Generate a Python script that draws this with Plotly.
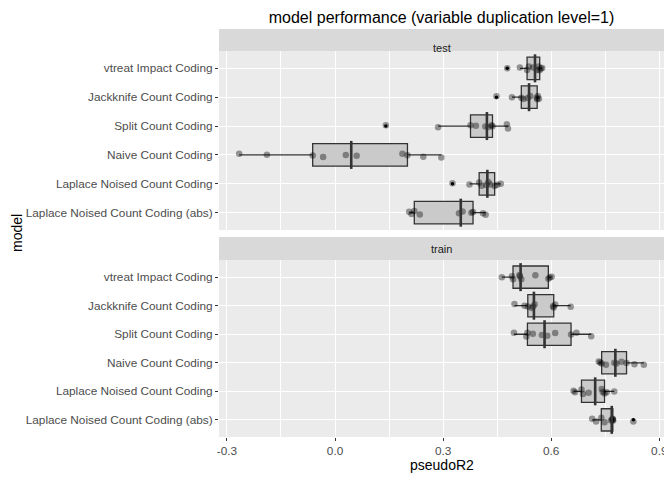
import numpy as np
import plotly.graph_objects as go
from plotly.subplots import make_subplots

# model names, top to bottom as in the chart
models = ["vtreat Impact Coding", "Jackknife Count Coding", "Split Count Coding",
          "Naive Count Coding", "Laplace Noised Count Coding", "Laplace Noised Count Coding (abs)"]

# pseudoR2 per repetition, test set
test_vtreat = [0.478, 0.513, 0.533, 0.538, 0.550, 0.560, 0.565, 0.568, 0.571, 0.575]
test_jackknife = [0.448, 0.491, 0.517, 0.523, 0.535, 0.542, 0.560, 0.561, 0.563, 0.566]
test_split = [0.141, 0.286, 0.376, 0.391, 0.417, 0.426, 0.434, 0.437, 0.477, 0.480]
test_naive = [-0.266, -0.189, -0.062, -0.033, 0.030, 0.060, 0.187, 0.201, 0.245, 0.295]
test_laplace = [0.326, 0.373, 0.400, 0.407, 0.420, 0.4255, 0.431, 0.443, 0.450, 0.460]
test_laplace_abs = [0.2057, 0.2123, 0.220, 0.2353, 0.344, 0.354, 0.3785, 0.383, 0.4106, 0.418]

# pseudoR2 per repetition, train set
train_vtreat = [0.463, 0.491, 0.494, 0.512, 0.513, 0.517, 0.556, 0.592, 0.596, 0.601]
train_jackknife = [0.498, 0.526, 0.535, 0.546, 0.550, 0.554, 0.605, 0.607, 0.611, 0.654]
train_split = [0.4965, 0.531, 0.534, 0.549, 0.574, 0.589, 0.611, 0.655, 0.670, 0.711]
train_naive = [0.732, 0.736, 0.740, 0.752, 0.775, 0.781, 0.795, 0.809, 0.831, 0.857]
train_laplace = [0.662, 0.666, 0.684, 0.688, 0.704, 0.740, 0.743, 0.748, 0.754, 0.775]
train_laplace_abs = [0.7135, 0.7246, 0.739, 0.748, 0.766, 0.770, 0.770, 0.771, 0.772, 0.828]

facets = {
  "test": [test_vtreat, test_jackknife, test_split, test_naive, test_laplace, test_laplace_abs],
  "train": [train_vtreat, train_jackknife, train_split, train_naive, train_laplace, train_laplace_abs],
}

font = "Liberation Sans, Arial, sans-serif"
fig = make_subplots(rows=2, cols=1, shared_xaxes=True)

for row, (facet, groups) in enumerate(facets.items(), start=1):
  xs = [v for g in groups for v in g]
  ys = [m for m, g in zip(models, groups) for _ in g]
  # outlier dots of the boxplot (drawn below the jittered points)
  fig.add_trace(go.Box(x=xs, y=ys, orientation="h", boxpoints="outliers", width=0.78,
                       fillcolor="rgba(0,0,0,0)", line=dict(color="rgba(0,0,0,0)", width=0),
                       marker=dict(color="black", size=3.5), whiskerwidth=0,
                       hoverinfo="skip", showlegend=False), row=row, col=1)
  # box + jittered points
  fig.add_trace(go.Box(x=xs, y=ys, orientation="h", boxpoints="all", jitter=0.25, pointpos=0,
                       width=0.78, fillcolor="#CACACA", line=dict(color="#333333", width=1.3),
                       marker=dict(color="rgba(0,0,0,0.38)", size=6.5), whiskerwidth=0,
                       showlegend=False), row=row, col=1)
  # thicker median bar like ggplot
  fig.add_trace(go.Scatter(x=[float(np.median(g)) for g in groups], y=models, mode="markers",
                           marker=dict(symbol="line-ns", size=20, line=dict(color="#333333", width=2.6)),
                           hoverinfo="skip", showlegend=False), row=row, col=1)

# panel geometry (paper coords)
top_dom = [0.5074, 0.9461]
bot_dom = [0.0, 0.4338]
strips = [("test", 0.9461, 1.0), ("train", 0.4338, 0.4902)]

for lo, hi in [(s[1], s[2]) for s in strips]:
  fig.add_shape(type="rect", xref="paper", yref="paper", x0=0, x1=1, y0=lo, y1=hi,
                fillcolor="#D9D9D9", line=dict(width=0), layer="below")
for label, lo, hi in strips:
  fig.add_annotation(text=label, xref="paper", yref="paper", x=0.5, y=(lo + hi) / 2,
                     showarrow=False, font=dict(family=font, size=11, color="#1A1A1A"))

xaxis_style = dict(range=[-0.322, 0.913], tickvals=[-0.3, 0.0, 0.3, 0.6, 0.9],
                   ticktext=["-0.3", "0.0", "0.3", "0.6", "0.9"], automargin=False,
                   showgrid=True, gridcolor="white", gridwidth=1.1, zeroline=False,
                   minor=dict(tickvals=[-0.15, 0.15, 0.45, 0.75], showgrid=True,
                              gridcolor="white", gridwidth=0.5),
                   showline=False, tickfont=dict(family=font, size=11.8, color="#4D4D4D"))
fig.update_xaxes(**xaxis_style)
fig.update_xaxes(showticklabels=False, ticks="", row=1, col=1)
fig.update_xaxes(ticks="outside", ticklen=3, tickcolor="#333333", row=2, col=1)

fig.update_yaxes(type="category", categoryorder="array", categoryarray=models[::-1],
                 range=[-0.6, 5.6], showgrid=True, gridcolor="white", gridwidth=1.1,
                 zeroline=False, ticks="outside", ticklen=3, tickcolor="#333333", automargin=False,
                 tickfont=dict(family=font, size=11.8, color="#4D4D4D"))
fig.update_layout(yaxis=dict(domain=top_dom), yaxis2=dict(domain=bot_dom))

fig.add_annotation(text="model", xref="paper", yref="paper", x=-0.454, y=0.5, textangle=-90,
                   showarrow=False, xanchor="center", font=dict(family=font, size=14, color="black"))
fig.add_annotation(text="pseudoR2", xref="paper", yref="paper", x=0.5, y=-0.068,
                   showarrow=False, yanchor="middle", font=dict(family=font, size=14, color="black"))

# the page body has an 8px margin, so the figure is drawn 8px smaller and offset
fig.update_layout(
  width=664, height=472,
  margin=dict(l=211, r=8, t=21, b=43),
  paper_bgcolor="white", plot_bgcolor="#EBEBEB",
  boxmode="overlay",
  title=dict(text="model performance (variable duplication level=1)", x=0.5, xref="paper",
             xanchor="center", y=0.993, yanchor="top",
             font=dict(family=font, size=16, color="black")),
)

fig.write_html("out.html")
